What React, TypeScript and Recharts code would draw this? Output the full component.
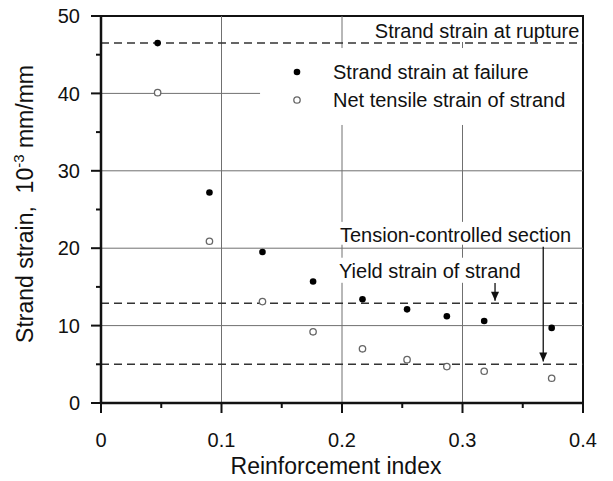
import React from "react";
import {
  ScatterChart,
  Scatter,
  XAxis,
  YAxis,
  ReferenceLine,
  ReferenceArea,
  ReferenceDot,
  Legend,
} from "recharts";

// reinforcement index of each specimen and the two measured strains (10^-3 mm/mm)
const reinforcementIndex = [0.047, 0.090, 0.134, 0.176, 0.217, 0.254, 0.287, 0.318, 0.374];
const strainAtFailure = [46.5, 27.2, 19.5, 15.7, 13.4, 12.1, 11.2, 10.6, 9.7];
const netTensileStrain = [40.1, 20.9, 13.1, 9.2, 7.0, 5.6, 4.7, 4.1, 3.2];

// limit strains drawn as dashed lines
const ruptureStrain = 46.5;
const yieldStrain = 12.9;
const tensionControlledStrain = 5;

const seriesNames = ["Strand strain at failure", "Net tensile strain of strand"];

const xTicks = [0, 0.05, 0.1, 0.15, 0.2, 0.25, 0.3, 0.35, 0.4];
const yTicks = [0, 5, 10, 15, 20, 25, 30, 35, 40, 45, 50];

const FONT = '"Liberation Sans", Arial, Helvetica, sans-serif';
const INK = "#111";
const GRID = "#707070";

const failureData = reinforcementIndex.map((x, i) => ({ x, y: strainAtFailure[i] }));
const netData = reinforcementIndex.map((x, i) => ({ x, y: netTensileStrain[i] }));

// grid pieces left visible around the text blocks
const gridSegments = [
  [{ x: 0.1, y: 50 }, { x: 0.1, y: 0 }],
  [{ x: 0, y: 40 }, { x: 0.132, y: 40 }],
  [{ x: 0.2, y: 50 }, { x: 0.2, y: 45.86 }],
  [{ x: 0.2, y: 35.92 }, { x: 0.2, y: 23.4 }],
  [{ x: 0.2, y: 20.45 }, { x: 0.2, y: 18.77 }],
  [{ x: 0.2, y: 15.53 }, { x: 0.2, y: 0 }],
  [{ x: 0.3, y: 46.64 }, { x: 0.3, y: 45.86 }],
  [{ x: 0.3, y: 35.92 }, { x: 0.3, y: 23.4 }],
  [{ x: 0.3, y: 20.45 }, { x: 0.3, y: 18.77 }],
  [{ x: 0.3, y: 15.53 }, { x: 0.3, y: 0 }],
];

// arrow shafts: from the note down to the limit line
const arrows = [
  [{ x: 0.327, y: 15.5 }, { x: 0.327, y: 13.2 }],
  [{ x: 0.367, y: 20.2 }, { x: 0.367, y: 5.35 }],
];

const notes = [
  { x: 0.397, y: 47.1, text: "Strand strain at rupture", anchor: "end" },
  { x: 0.1983, y: 20.86, text: "Tension-controlled section", anchor: "start" },
  { x: 0.1975, y: 16.13, text: "Yield strain of strand", anchor: "start" },
];

function YTick({ x, y, payload }: any) {
  const major = payload.value % 10 === 0;
  return (
    <g>
      <line x1={x - (major ? 10 : 5)} y1={y} x2={x} y2={y} stroke={INK} strokeWidth={2} />
      {major && (
        <text x={x - 21} y={y} dy="0.36em" textAnchor="end" fontSize={20} fill={INK} fontFamily={FONT}>
          {payload.value}
        </text>
      )}
    </g>
  );
}

function XTick({ x, y, payload }: any) {
  const major = Math.round(payload.value * 100) % 10 === 0;
  return (
    <g>
      <line x1={x} y1={y} x2={x} y2={y + (major ? 10 : 5)} stroke={INK} strokeWidth={2} />
      {major && (
        <text x={x} y={y + 43.5} textAnchor="middle" fontSize={20} fill={INK} fontFamily={FONT}>
          {payload.value}
        </text>
      )}
    </g>
  );
}

const markers: Record<string, (cx: number, cy: number) => React.ReactElement> = {
  [seriesNames[0]]: (cx, cy) => <circle cx={cx} cy={cy} r={3.3} fill="#000" />,
  [seriesNames[1]]: (cx, cy) => (
    <circle cx={cx} cy={cy} r={3.2} fill="#fff" stroke="#666" strokeWidth={1.3} />
  ),
};

const renderLegend = ({ payload }: any) => {
  const items = [...(payload || [])].sort(
    (a: any, b: any) => seriesNames.indexOf(a.value) - seriesNames.indexOf(b.value)
  );
  return (
    <svg width={320} height={60} style={{ display: "block" }}>
      {items.map((entry: any, i: number) => (
        <g key={entry.value}>
          {markers[entry.value](27, 14 + i * 28)}
          <text x={63} y={21.3 + i * 28} fontSize={20} fill={INK} fontFamily={FONT}>
            {entry.value}
          </text>
        </g>
      ))}
    </svg>
  );
};

// rotated y title, laid over the chart's left margin
function YTitle() {
  const cx = 33;
  const cy = 204;
  return (
    <svg
      width={60}
      height={481}
      style={{ position: "absolute", left: 0, top: 0, pointerEvents: "none" }}
    >
      <text
        x={cx}
        y={cy}
        transform={`rotate(-90, ${cx}, ${cy})`}
        textAnchor="middle"
        fontSize={23}
        fill={INK}
        fontFamily={FONT}
      >
        {"Strand strain,\u00a0\u00a010"}
        <tspan dy={-9} fontSize={15}>
          -3
        </tspan>
        <tspan dy={9} fontSize={23}>
          {"\u00a0mm/mm"}
        </tspan>
      </text>
    </svg>
  );
}

export default function App() {
  return (
    <div style={{ position: "absolute", left: 0, top: 0, width: 613, height: 481 }}>
      <ScatterChart width={613} height={481} margin={{ top: 16, right: 30, bottom: 0, left: 0 }}>
        {[10, 20, 30].map((v) => (
          <ReferenceLine key={`h${v}`} y={v} stroke={GRID} strokeWidth={1} />
        ))}
        {gridSegments.map((seg, i) => (
          <ReferenceLine key={`g${i}`} segment={seg} stroke={GRID} strokeWidth={1} />
        ))}
        {[ruptureStrain, yieldStrain, tensionControlledStrain].map((v) => (
          <ReferenceLine key={`d${v}`} y={v} stroke="#333" strokeWidth={1.5} strokeDasharray="8 5" />
        ))}
        {arrows.map((seg, i) => (
          <ReferenceLine key={`a${i}`} segment={seg} stroke={INK} strokeWidth={1.3} />
        ))}
        {arrows.map((seg, i) => (
          <ReferenceDot
            key={`ah${i}`}
            x={seg[1].x}
            y={seg[1].y}
            r={0}
            shape={(p: any) => (
              <path d={`M${p.cx - 4},${p.cy - 9} L${p.cx + 4},${p.cy - 9} L${p.cx},${p.cy} Z`} fill={INK} />
            )}
          />
        ))}
        {notes.map((n) => (
          <ReferenceDot
            key={n.text}
            x={n.x}
            y={n.y}
            r={0}
            shape={(p: any) => (
              <text x={p.cx} y={p.cy} textAnchor={n.anchor} fontSize={20} fill={INK} fontFamily={FONT}>
                {n.text}
              </text>
            )}
          />
        ))}
        <ReferenceArea
          x1={0}
          x2={0.4}
          y1={0}
          y2={50}
          fill="none"
          stroke={INK}
          strokeWidth={2}
          ifOverflow="visible"
        />
        <XAxis
          dataKey="x"
          type="number"
          domain={[0, 0.4]}
          ticks={xTicks}
          interval={0}
          height={78}
          tickSize={0}
          tickMargin={0}
          tickLine={false}
          tick={<XTick />}
          axisLine={{ stroke: INK, strokeWidth: 2.5 }}
          label={{
            content: ({ viewBox }: any) => (
              <text
                x={viewBox.x + viewBox.width / 2 - 6}
                y={viewBox.y + 71}
                textAnchor="middle"
                fontSize={23}
                fill={INK}
                fontFamily={FONT}
              >
                Reinforcement index
              </text>
            ),
          }}
        />
        <YAxis
          dataKey="y"
          type="number"
          domain={[0, 50]}
          ticks={yTicks}
          interval={0}
          width={101}
          tickSize={0}
          tickMargin={0}
          tickLine={false}
          tick={<YTick />}
          axisLine={{ stroke: INK, strokeWidth: 2.5 }}
        />
        <Legend
          layout="vertical"
          align="center"
          verticalAlign="middle"
          content={renderLegend}
          wrapperStyle={{ left: 270, top: 58, width: 320, height: 60 }}
        />
        <Scatter
          name={seriesNames[0]}
          data={failureData}
          shape={(p: any) => markers[seriesNames[0]](p.cx, p.cy)}
          isAnimationActive={false}
        />
        <Scatter
          name={seriesNames[1]}
          data={netData}
          shape={(p: any) => markers[seriesNames[1]](p.cx, p.cy)}
          isAnimationActive={false}
        />
      </ScatterChart>
      <YTitle />
    </div>
  );
}
